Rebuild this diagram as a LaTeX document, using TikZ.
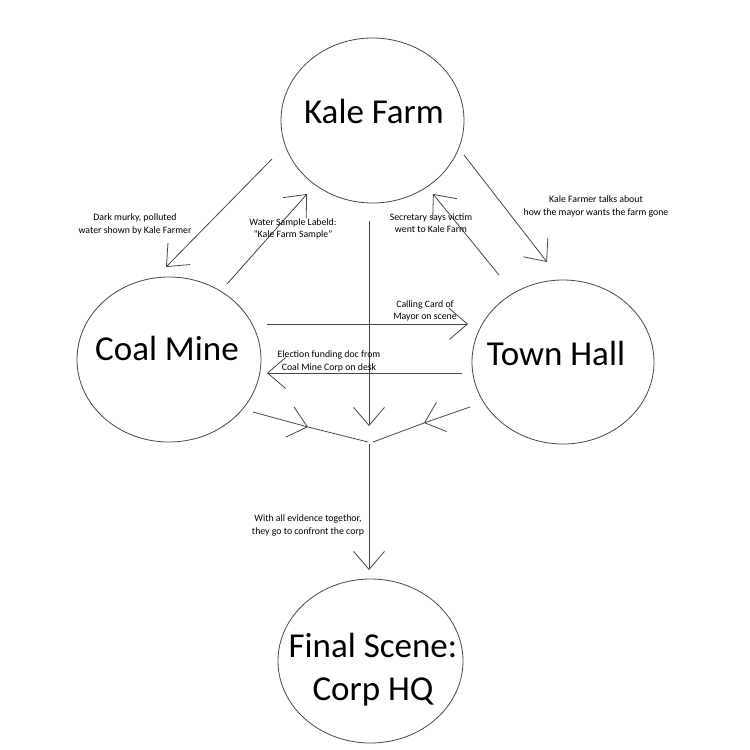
\documentclass[tikz,border=0pt]{standalone}
\usepackage{fontspec}
\setmainfont{Carlito}
\usetikzlibrary{arrows.meta,shapes.geometric}
\begin{document}
\begin{tikzpicture}[x=1pt,y=-1pt,
  place/.style={ellipse, draw=black!72, line width=0.8pt, inner sep=0pt},
  conn/.style={draw=black!72, line width=0.8pt},
  arr/.style={conn, -{Straight Barb[length=18pt,width=31pt,line width=0.8pt]}},
  note/.style={font=\fontsize{9.8}{12.5}\selectfont, align=center, inner sep=0pt},
  big/.style={font=\fontsize{35}{43}\selectfont, inner sep=0pt}]
\fill[white] (0,0) rectangle (750,750);
\useasboundingbox (0,0) rectangle (750,750);

% places
\node[place, minimum width=183pt, minimum height=165pt] (kale) at (372.5,120.5) {};
\node[place, minimum width=184pt, minimum height=165pt] (coal) at (169,359.5) {};
\node[place, minimum width=182pt, minimum height=164pt] (town) at (563,362) {};
\node[place, minimum width=185pt, minimum height=164pt] (final) at (370.5,661) {};

\node[big, anchor=base] (kaleT) at (374,123) {Kale Farm};
\node[big, anchor=base] (coalT) at (167,360) {Coal Mine};
\node[big, anchor=base] (townT) at (556,365) {Town Hall};
\node[big, align=center, anchor=base] (finalT) at (373,700) {Final Scene:\\Corp HQ};

% connector end points
\coordinate (kc1) at (272,159);  \coordinate (kc2) at (166,267);
\coordinate (ck1) at (227,284);  \coordinate (ck2) at (307,194);
\coordinate (kt1) at (464,155);  \coordinate (kt2) at (547,262);
\coordinate (tk1) at (499,275);  \coordinate (tk2) at (433,194);
\coordinate (ct1) at (267,324);  \coordinate (ct2) at (468,324);
\coordinate (tc1) at (462,373);  \coordinate (tc2) at (267,373);
\coordinate (kj1) at (369,221);  \coordinate (kj2) at (369,426);
\coordinate (lb1) at (253,412);  \coordinate (lbm) at (308,427);  \coordinate (lb2) at (368,442);
\coordinate (rb1) at (470,407);  \coordinate (rbm) at (424,423);  \coordinate (rb2) at (373,442);
\coordinate (jf1) at (369,444);  \coordinate (jf2) at (369,570);

\draw[arr] (kc1) -- (kc2);
\draw[arr] (ck1) -- (ck2);
\draw[arr] (kt1) -- (kt2);
\draw[arr] (tk1) -- (tk2);
\draw[arr] (ct1) -- (ct2);
\draw[arr] (tc1) -- (tc2);
\draw[arr] (kj1) -- (kj2);
\draw[arr] (lb1) -- (lbm);
\draw[conn] (lbm) -- (lb2);
\draw[arr] (rb1) -- (rbm);
\draw[conn] (rbm) -- (rb2);
\draw[arr] (jf1) -- (jf2);

% labels
\node[note] (n1) at (135,224.5) {Dark murky, polluted\\water shown by Kale Farmer};
\node[note] (n2) at (293,229) {Water Sample Labeld:\\"Kale Farm Sample"};
\node[note] (n3) at (431,223) {Secretary says victim\\went to Kale Farm};
\node[note] (n4) at (596,206.5) {Kale Farmer talks about\\how the mayor wants the farm gone};
\node[note] (n5) at (425,311) {Calling Card of\\Mayor on scene};
\node[note] (n6) at (329,361.5) {Election funding doc from\\Coal Mine Corp on desk};
\node[note] (n7) at (308,525.5) {With all evidence togethor,\\they go to confront the corp};
\end{tikzpicture}
\end{document}
